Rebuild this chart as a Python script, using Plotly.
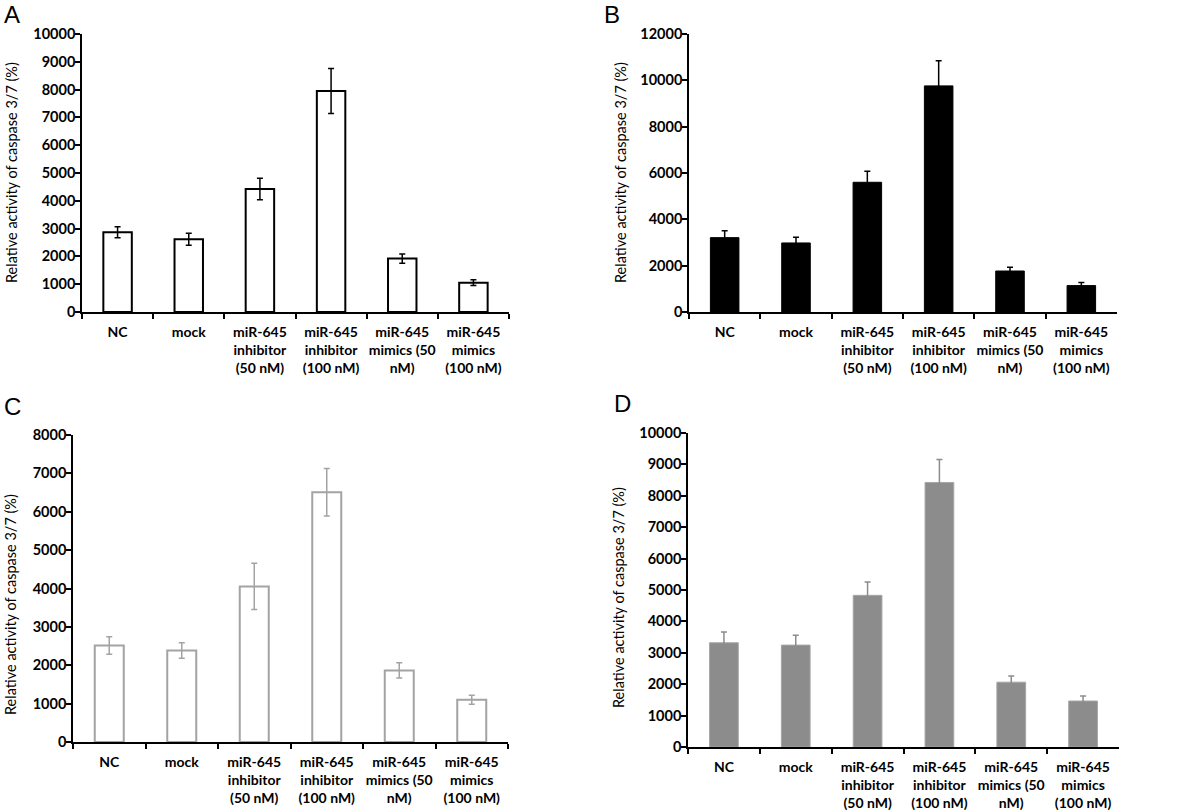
import plotly.graph_objects as go

categories = ["NC", "mock", "miR-645<br>inhibitor<br>(50 nM)", "miR-645<br>inhibitor<br>(100 nM)",
              "miR-645<br>mimics (50<br>nM)", "miR-645<br>mimics<br>(100 nM)"]

a_vals = [2870, 2615, 4425, 7950, 1920, 1055]
a_err = [200, 215, 390, 810, 165, 105]
b_vals = [3210, 2980, 5600, 9760, 1770, 1140]
b_err = [300, 245, 475, 1080, 160, 130]
c_vals = [2515, 2385, 4055, 6510, 1865, 1100]
c_err = [230, 200, 605, 620, 200, 115]
d_vals = [3320, 3245, 4830, 8425, 2065, 1465]
d_err = [340, 310, 425, 735, 200, 160]

W, H = 1200, 812

def px_dom_x(x0, x1):
    return [x0 / W, x1 / W]

def px_dom_y(top, bottom):
    return [1 - bottom / H, 1 - top / H]

panels = [
    dict(vals=a_vals, err=a_err, fill="white", line="black", lw=2, ecol="black",
         xd=px_dom_x(82, 509), yd=px_dom_y(34, 312), rng=[0, 10000], dt=1000,
         letter="A", lx=12, ly=14, tx=11, ty=173),
    dict(vals=b_vals, err=b_err, fill="black", line="black", lw=1, ecol="black",
         xd=px_dom_x(689, 1117), yd=px_dom_y(34, 312), rng=[0, 12000], dt=2000,
         letter="B", lx=612, ly=14, tx=620, ty=173),
    dict(vals=c_vals, err=c_err, fill="white", line="#a3a3a3", lw=2, ecol="#a3a3a3",
         xd=px_dom_x(73, 508), yd=px_dom_y(435, 742), rng=[0, 8000], dt=1000,
         letter="C", lx=12, ly=406, tx=10, ty=605),
    dict(vals=d_vals, err=d_err, fill="#8c8c8c", line="#a6a6a6", lw=1, ecol="#8c8c8c",
         xd=px_dom_x(688, 1119), yd=px_dom_y(433, 747), rng=[0, 10000], dt=1000,
         letter="D", lx=622, ly=404, tx=618, ty=598),
]

fig = go.Figure()
annotations = []
xtickfont = dict(family="Lato", size=14, color="black", weight=700)
ytickfont = dict(family="Lato", size=14.5, color="black", weight=700)

for i, p in enumerate(panels):
    n = "" if i == 0 else str(i + 1)
    fig.add_trace(go.Bar(
        x=categories, y=p["vals"], width=0.4,
        marker=dict(color=p["fill"], line=dict(color=p["line"], width=p["lw"])),
        error_y=dict(type="data", array=p["err"], visible=True, color=p["ecol"],
                     thickness=1.5, width=3),
        xaxis="x" + n, yaxis="y" + n, showlegend=False,
    ))
    fig.update_layout(**{
        "xaxis" + n: dict(domain=p["xd"], anchor="y" + n, type="category",
                          range=[-0.5, 5.5], showline=True, linecolor="black", linewidth=1.5,
                          ticks="outside", tickson="boundaries", ticklen=5, tickwidth=1.5,
                          tickcolor="black", showgrid=False, tickfont=xtickfont,
                          tickangle=0, fixedrange=True, automargin=False,
                          ticklabelstandoff=6),
        "yaxis" + n: dict(domain=p["yd"], anchor="x" + n, range=p["rng"], dtick=p["dt"],
                          showline=True, linecolor="black", linewidth=1.5,
                          ticks="outside", ticklen=5, tickwidth=1.5, tickcolor="black",
                          showgrid=False, zeroline=False, tickfont=ytickfont,
                          tickformat="d", automargin=False, ticklabelstandoff=-3),
    })
    annotations.append(dict(text=p["letter"], x=p["lx"] / W, y=1 - p["ly"] / H,
                            xref="paper", yref="paper", showarrow=False,
                            xanchor="center", yanchor="middle",
                            font=dict(family="Liberation Sans", size=24, color="black")))
    annotations.append(dict(text="Relative activity of caspase 3/7 (%)", x=p["tx"] / W,
                            y=1 - p["ty"] / H, xref="paper", yref="paper", showarrow=False,
                            textangle=-90, xanchor="center", yanchor="middle",
                            font=dict(family="Lato", size=14.5, color="black")))

fig.update_layout(width=W, height=H, margin=dict(l=0, r=0, t=0, b=0, autoexpand=False),
                  paper_bgcolor="white", plot_bgcolor="white", bargap=0.6,
                  annotations=annotations)
fig.write_html("out.html", config={"displayModeBar": False},
               post_script="document.body.style.margin='0';document.body.style.overflow='hidden';")
